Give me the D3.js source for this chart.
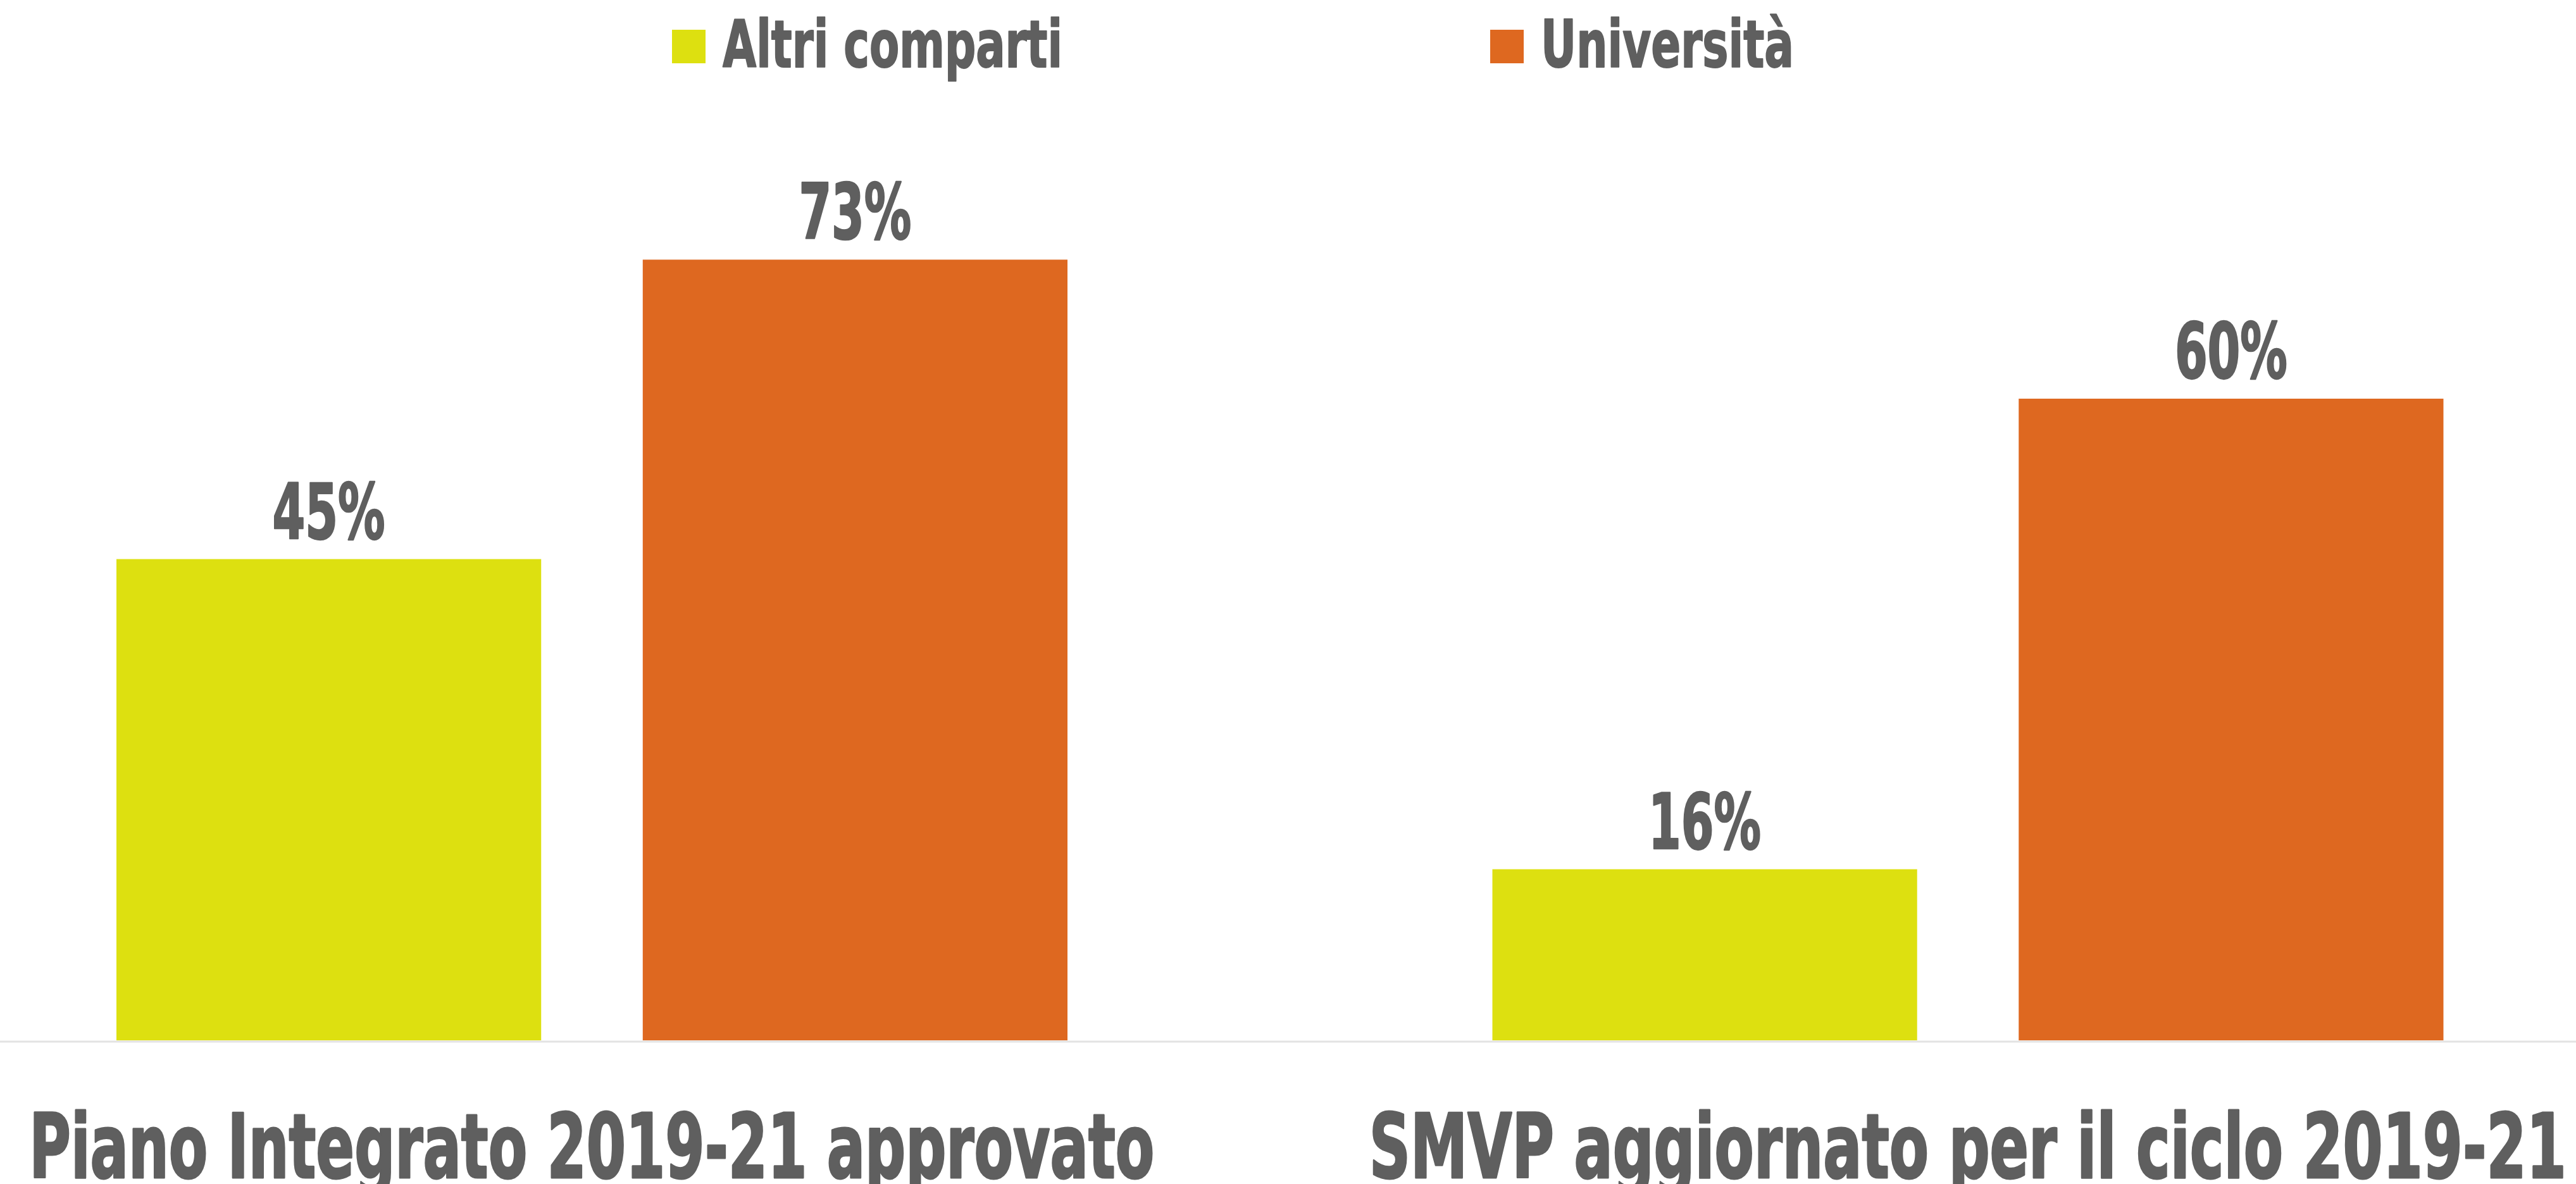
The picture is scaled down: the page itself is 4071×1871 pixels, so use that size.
<!DOCTYPE html>
<html>
<head>
<meta charset="utf-8">
<script src="https://cdn.jsdelivr.net/npm/d3@7"></script>
<style>
  body { margin: 0; background: #fff; }
  svg text {
    font-family: "Liberation Sans Narrow", "DejaVu Sans Condensed", "Liberation Sans", sans-serif;
    font-weight: bold;
    fill: #5f5f5f;
    stroke: #5f5f5f;
    stroke-linejoin: round;
  }
</style>
</head>
<body>
<div id="grafico"></div>
<script>
// datos del grafico
const categorias = ["Piano Integrato 2019-21 approvato", "SMVP aggiornato per il ciclo 2019-21"];
const serie = ["Altri comparti", "Università"];
const altriComparti = [45, 16];
const universita = [73, 60];
const colores = ["#dde010", "#de6820"];

// medidas (solo layout)
const width = 4071, height = 1871;
const base = 1644;
const anchoTitulos = [1778, 1892];
const anchoLeyenda = [537, 400];
const leyendaX = [1062, 2355];

const filas = categorias.map((c, i) => ({ cat: c, valores: [altriComparti[i], universita[i]] }));

const svg = d3.select("#grafico").append("svg")
    .attr("width", width)
    .attr("height", height);

svg.append("rect").attr("width", width).attr("height", height).attr("fill", "#fff");

const x0 = d3.scaleBand().domain(categorias).range([-152, 4197]);
const x1 = d3.scaleBand().domain(serie).range([336, 1839]).paddingInner(0.193);
const y = d3.scaleLinear().domain([0, 80]).range([base, base - 80 * 16.9]);
const color = d3.scaleOrdinal().domain(serie).range(colores);

// linea base
svg.append("line")
    .attr("x1", 0).attr("x2", width)
    .attr("y1", base + 2).attr("y2", base + 2)
    .attr("stroke", "#e3e3e3")
    .attr("stroke-width", 3);

const grupo = svg.selectAll("g.grupo")
  .data(filas)
  .enter().append("g")
    .attr("class", "grupo")
    .attr("transform", d => `translate(${x0(d.cat)},0)`);

const barras = grupo.selectAll("g.barra")
  .data(d => d.valores.map((v, j) => ({ s: serie[j], v: v })))
  .enter().append("g")
    .attr("class", "barra");

barras.append("rect")
    .attr("x", d => x1(d.s))
    .attr("y", d => y(d.v))
    .attr("width", x1.bandwidth())
    .attr("height", d => base - y(d.v))
    .attr("fill", d => color(d.s));

barras.append("text")
    .attr("x", d => x1(d.s) + x1.bandwidth() / 2)
    .attr("y", d => y(d.v) - 33)
    .attr("text-anchor", "middle")
    .attr("font-size", 121)
    .attr("stroke-width", 2.5)
    .attr("textLength", 178)
    .attr("lengthAdjust", "spacingAndGlyphs")
    .text(d => d.v + "%");

// eje de categorias
const eje = svg.append("g")
    .attr("transform", `translate(0,1861)`)
    .call(d3.axisBottom(x0).tickSize(0));
eje.select(".domain").remove();
eje.selectAll("text")
    .attr("y", 0)
    .attr("dy", 0)
    .attr("font-size", 140)
    .attr("font-family", null)
    .attr("fill", null)
    .attr("stroke-width", 3)
    .attr("textLength", (d, i) => anchoTitulos[i])
    .attr("lengthAdjust", "spacingAndGlyphs");

// leyenda
const leyenda = svg.selectAll("g.leyenda")
  .data(serie)
  .enter().append("g")
    .attr("class", "leyenda")
    .attr("transform", (d, i) => `translate(${leyendaX[i]},0)`);

leyenda.append("rect")
    .attr("x", 0).attr("y", 47)
    .attr("width", 53).attr("height", 53)
    .attr("fill", d => color(d));

leyenda.append("text")
    .attr("x", 80)
    .attr("y", 106)
    .attr("font-size", 104)
    .attr("stroke-width", 2)
    .attr("textLength", (d, i) => anchoLeyenda[i])
    .attr("lengthAdjust", "spacingAndGlyphs")
    .text(d => d);
</script>
</body>
</html>
